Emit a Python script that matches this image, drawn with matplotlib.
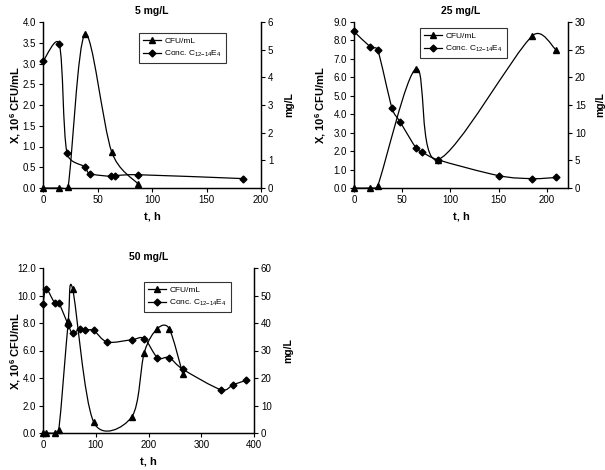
import matplotlib
matplotlib.use("Agg")
import matplotlib.pyplot as plt
import numpy as np
from matplotlib.path import Path
from matplotlib.patches import PathPatch
from matplotlib.lines import Line2D
from matplotlib.ticker import FormatStrFormatter, MultipleLocator

plt.rcParams['font.family'] = ['Liberation Sans', 'DejaVu Sans']
plt.rcParams['mathtext.fontset'] = 'custom'
plt.rcParams['mathtext.rm'] = 'Liberation Sans'
plt.rcParams['mathtext.bf'] = 'Liberation Sans:bold'
plt.rcParams['mathtext.it'] = 'Liberation Sans:italic'

# 5 mg/L
t5_cfu = [0, 15, 23, 38.5, 63, 87]
cfu5 = [0.0, 0.0, 0.03, 3.7, 0.87, 0.1]
t5_conc = [0, 15, 22, 38.5, 43, 62.5, 66.5, 87, 183.5]
conc5 = [4.58, 5.19, 1.27, 0.76, 0.52, 0.42, 0.45, 0.48, 0.34]

# 25 mg/L
t25_cfu = [0, 17, 24.5, 64.5, 87, 185, 209.5]
cfu25 = [0.0, 0.0, 0.11, 6.47, 1.54, 8.25, 7.5]
t25_conc = [0, 17, 24.5, 39.5, 48, 64.5, 71, 87, 150, 185, 209.5]
conc25 = [28.3, 25.5, 25.0, 14.4, 11.9, 7.2, 6.45, 5.1, 2.24, 1.7, 1.9]

# 50 mg/L
t50_cfu = [0, 6, 22, 30, 48, 56, 96, 168, 192, 217, 239, 265]
cfu50 = [0.0, 0.0, 0.0, 0.24, 8.15, 10.5, 0.8, 1.16, 5.85, 7.6, 7.6, 4.3]
t50_conc = [0, 6, 22, 30, 48, 56, 70, 80, 96, 122, 168, 192, 217, 239, 265,
            338, 361, 385]
conc50 = [46.8, 52.3, 47.4, 47.2, 39.3, 36.3, 37.9, 37.3, 37.3, 33.1, 33.9,
          34.3, 27.4, 27.4, 23.2, 15.7, 17.6, 19.1]

conc_label = r"Conc. C$_{12\mathrm{-}14}$E$_4$"


def smooth_line(ax, x, y):
    # spreadsheet-style smoothed line: bezier arms 1/6 of neighbour span,
    # capped at half the segment length (measured on screen)
    p = np.column_stack([x, y]).astype(float)
    s = ax.transData.transform(p)
    n = len(p)
    verts = [p[0]]
    codes = [Path.MOVETO]
    for i in range(n - 1):
        i0 = max(i - 1, 0)
        i3 = min(i + 2, n - 1)
        d12 = np.hypot(*(s[i + 1] - s[i]))
        d02 = np.hypot(*(s[i + 1] - s[i0]))
        d13 = np.hypot(*(s[i3] - s[i]))
        f0 = 1 / 6 if d02 / 6 < d12 / 2 else d12 / d02 / 2
        f3 = 1 / 6 if d13 / 6 < d12 / 2 else d12 / d13 / 2
        c1 = p[i] + (p[i + 1] - p[i0]) * f0
        c2 = p[i + 1] - (p[i3] - p[i]) * f3
        verts += [c1, c2, p[i + 1]]
        codes += [Path.CURVE4] * 3
    ax.add_patch(PathPatch(Path(verts, codes), facecolor='none',
                           edgecolor='black', lw=0.9, zorder=2))


def panel(rect, title, tc, cfu, tconc, conc, xlim, xstep, ylim, ystep,
          rlim, rstep, leg_pos, ylab_x, rlab_x):
    ax = fig.add_axes(rect)
    ax2 = ax.twinx()
    ax.set_xlim(*xlim)
    ax.set_ylim(*ylim)
    ax2.set_ylim(*rlim)
    smooth_line(ax, tc, cfu)
    ax.plot(tc, cfu, linestyle='none', marker='^', color='black', ms=5,
            zorder=3, clip_on=False)
    smooth_line(ax2, tconc, conc)
    ax2.plot(tconc, conc, linestyle='none', marker='D', color='black', ms=3.5,
             zorder=3, clip_on=False)
    ax.xaxis.set_major_locator(MultipleLocator(xstep))
    ax.yaxis.set_major_locator(MultipleLocator(ystep))
    ax2.yaxis.set_major_locator(MultipleLocator(rstep))
    ax.yaxis.set_major_formatter(FormatStrFormatter('%.1f'))
    ax2.yaxis.set_major_formatter(FormatStrFormatter('%d'))
    for a in (ax, ax2):
        a.spines['top'].set_visible(False)
        for sp in a.spines.values():
            sp.set_linewidth(0.9)
        a.tick_params(direction='out', length=3, width=0.8, labelsize=7, pad=2)
    ax.set_title(title, fontsize=7.5, fontweight='bold', pad=6)
    ax.set_xlabel('t, h', fontsize=8, fontweight='bold', labelpad=5)
    ax.set_ylabel(r'X, 10$^\mathbf{6}$ CFU/mL', fontsize=8, fontweight='bold')
    ax.yaxis.set_label_coords(ylab_x, 0.5)
    ax2.set_ylabel('mg/L', fontsize=7.5, fontweight='bold')
    ax2.yaxis.set_label_coords(rlab_x, 0.5)
    handles = [Line2D([], [], color='black', lw=0.9, marker='^', ms=5),
               Line2D([], [], color='black', lw=0.9, marker='D', ms=3.5)]
    leg = ax2.legend(handles, ['CFU/mL', conc_label], loc='upper left',
                     bbox_to_anchor=leg_pos, borderaxespad=0, fontsize=6,
                     frameon=True, fancybox=False, edgecolor='black',
                     handlelength=2.2, borderpad=0.45, labelspacing=0.55,
                     handletextpad=0.4)
    leg.get_frame().set_linewidth(0.8)
    return ax


W, H = 605, 470
fig = plt.figure(figsize=(W / 100, H / 100), dpi=100)


def rect(l, r, t, b):
    return [l / W, 1 - b / H, (r - l) / W, (b - t) / H]


panel(rect(43, 261, 22, 188), '5 mg/L', t5_cfu, cfu5, t5_conc, conc5,
      (0, 200), 50, (0, 4.0), 0.5, (0, 6), 1, (0.44, 0.934), -0.092, 1.105)
panel(rect(354, 568, 22, 188), '25 mg/L', t25_cfu, cfu25, t25_conc, conc25,
      (0, 222), 50, (0, 9.0), 1.0, (0, 30), 5, (0.308, 0.964), -0.12, 1.126)
panel(rect(43, 254, 268, 433), '50 mg/L', t50_cfu, cfu50, t50_conc, conc50,
      (0, 400), 100, (0, 12.0), 2.0, (0, 60), 10, (0.479, 0.915), -0.095, 1.137)

fig.savefig('out.png', dpi=100)
